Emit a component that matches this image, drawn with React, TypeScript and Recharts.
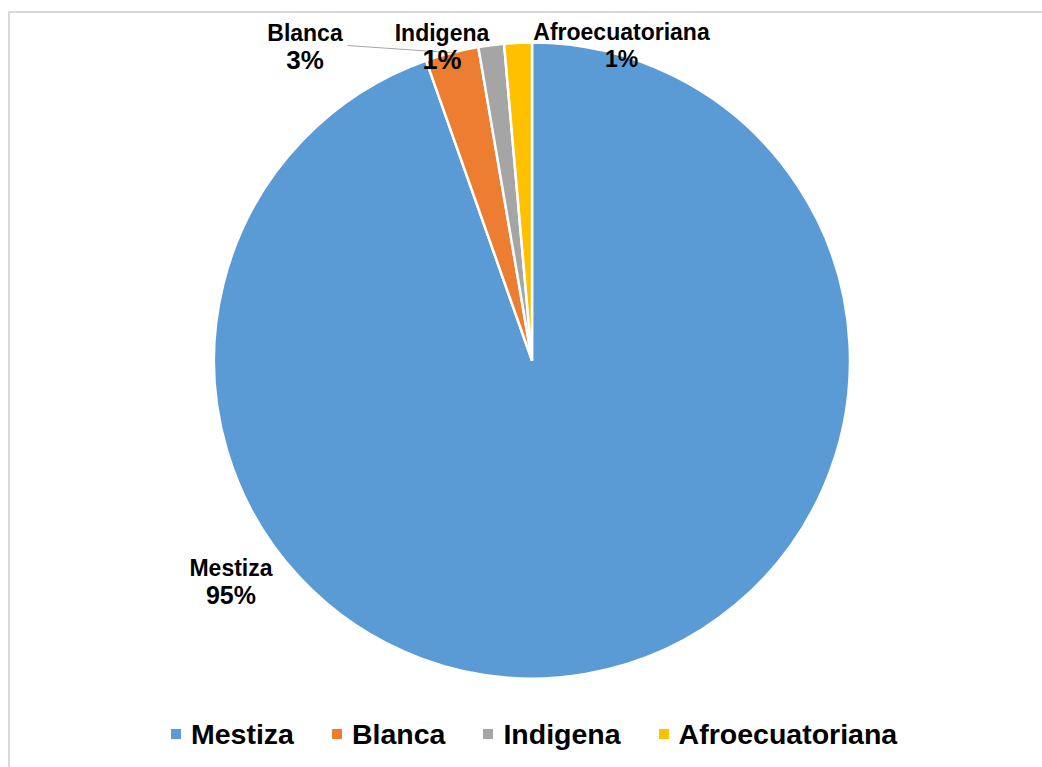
import { PieChart, Pie, Cell } from "recharts";

const categories = ["Mestiza", "Blanca", "Indigena", "Afroecuatoriana"];
const values = [94.6, 2.7, 1.3, 1.4];
const colors = ["#5b9bd5", "#ed7d31", "#a5a5a5", "#ffc000"];

// where Excel put each data label, relative to the pie centre
const labelPos = [
  { dx: -301, dy: 207.5, pctSize: 25 },
  { dx: -227, dy: -327.5, pctSize: 26 },
  { dx: -90, dy: -327.5, pctSize: 27 },
  { dx: 89.5, dy: -328.5, pctSize: 23 },
];

const data = categories.map((name, i) => ({ name, value: values[i] }));

const RADIAN = Math.PI / 180;
const FONT = '"Liberation Sans", Arial, sans-serif';

function renderLabel(props: any) {
  const { cx, cy, midAngle, outerRadius, percent, index } = props;
  const p = labelPos[index];
  const x = cx + p.dx;
  const y = cy + p.dy;
  const pct = `${Math.round(percent * 100)}%`;
  let leader = null;
  if (index === 1) {
    const ex = cx + outerRadius * Math.cos(-midAngle * RADIAN);
    const ey = cy + outerRadius * Math.sin(-midAngle * RADIAN);
    leader = <line x1={x + 42.5} y1={y + 12.5} x2={ex} y2={ey} stroke="#a6a6a6" strokeWidth={1.2} />;
  }
  return (
    <g key={`lbl-${index}`}>
      {leader}
      <text x={x} y={y} textAnchor="middle" dominantBaseline="central" fontFamily={FONT} fontWeight="bold" fontSize={23} fill="#000">
        {categories[index]}
      </text>
      <text x={x} y={y + 27} textAnchor="middle" dominantBaseline="central" fontFamily={FONT} fontWeight="bold" fontSize={p.pctSize} fill="#000">
        {pct}
      </text>
    </g>
  );
}

function LegendBox() {
  return (
    <div style={{ position: "absolute", left: 8, top: 716, width: 1026, display: "flex", alignItems: "center", height: 36, paddingLeft: 163, boxSizing: "border-box", fontFamily: FONT, fontWeight: "bold", fontSize: 28.5, lineHeight: "36px", color: "#000" }}>
      {categories.map((c, i) => (
        <div key={c} style={{ display: "flex", alignItems: "center", marginRight: 38 }}>
          <span style={{ width: 10, height: 10, background: colors[i], marginRight: 10, display: "inline-block" }} />
          <span>{c}</span>
        </div>
      ))}
    </div>
  );
}

export default function App() {
  return (
    <div style={{ position: "fixed", left: 0, top: 0, width: 1042, height: 767, background: "#fff", overflow: "hidden" }}>
      <div style={{ position: "absolute", left: 8, top: 11, width: 1100, height: 800, borderTop: "2px solid #d9d9d9", borderLeft: "2px solid #d9d9d9" }} />
      <PieChart width={1026} height={750} margin={{ top: 0, right: 0, bottom: 0, left: 0 }} style={{ position: "absolute", left: 8, top: 8 }}>
        <Pie
          data={data}
          dataKey="value"
          nameKey="name"
          cx={524}
          cy={352.5}
          outerRadius={318}
          startAngle={90}
          endAngle={-270}
          stroke="#fff"
          strokeWidth={2.5}
          label={renderLabel}
          labelLine={false}
          isAnimationActive={false}
        >
          {data.map((d, i) => (
            <Cell key={d.name} fill={colors[i]} />
          ))}
        </Pie>
      </PieChart>
      <LegendBox />
    </div>
  );
}
